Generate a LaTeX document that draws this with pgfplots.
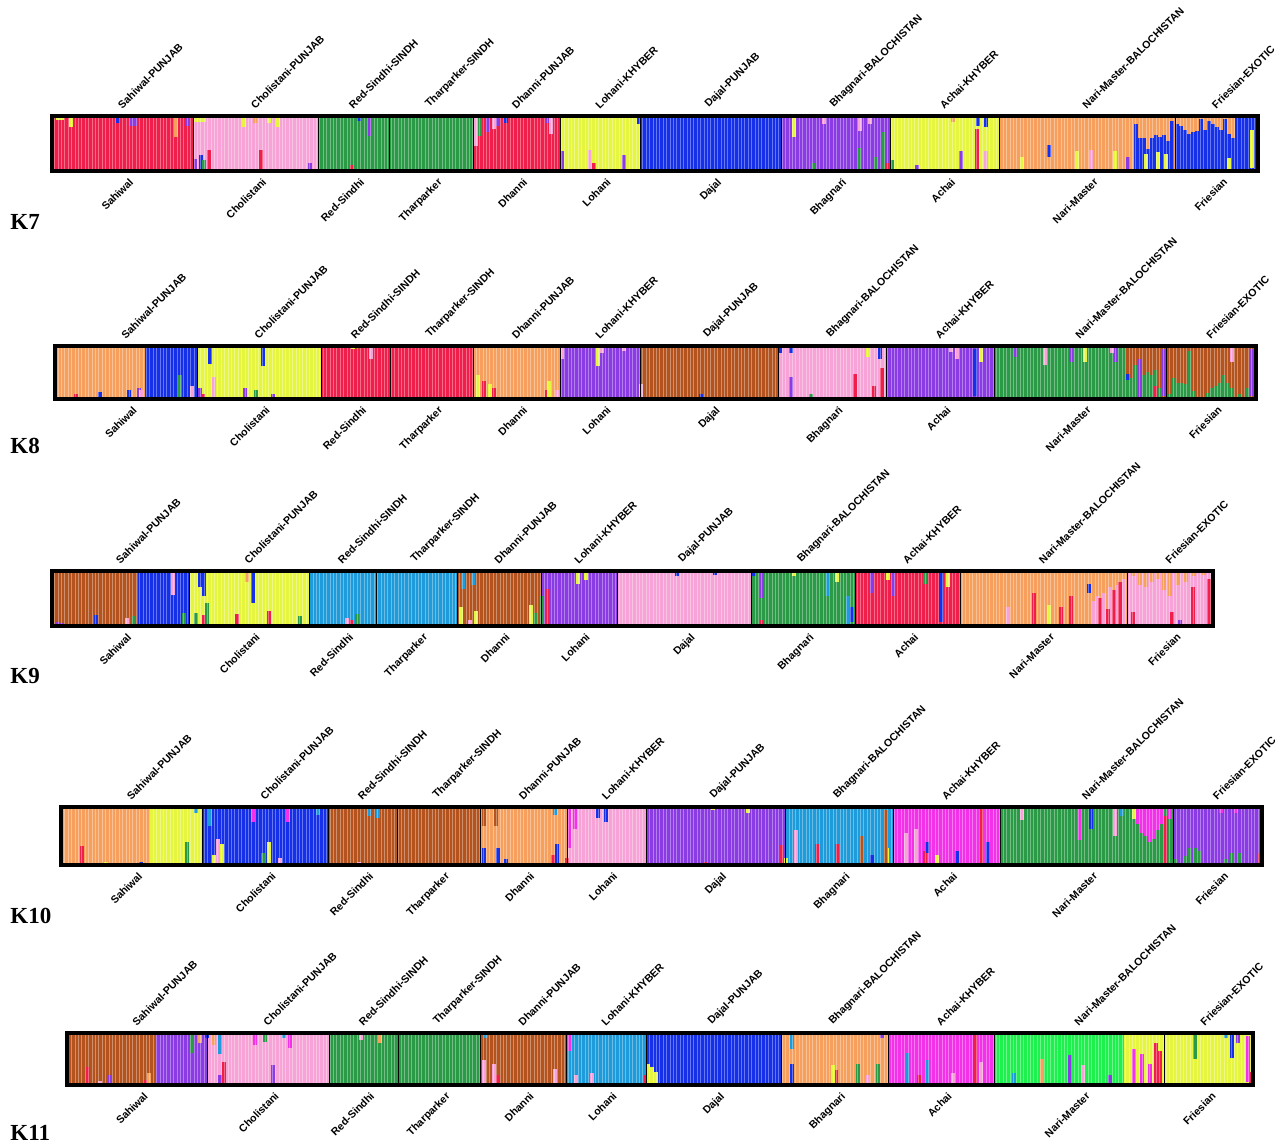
\documentclass[border=0pt]{standalone}
\usepackage{pgfplots}
\pgfplotsset{compat=1.18}
\usepackage{fontspec}
\setmainfont{Liberation Sans}
\newfontfamily\serifK{Liberation Serif}

\definecolor{cred}{HTML}{F01E4B}
\definecolor{cpink}{HTML}{F7A3D7}
\definecolor{cgreen}{HTML}{2B9A47}
\definecolor{corange}{HTML}{F7A05E}
\definecolor{cyellow}{HTML}{E6F53F}
\definecolor{cblue}{HTML}{1530E8}
\definecolor{cpurple}{HTML}{8A3BE3}
\definecolor{cbrown}{HTML}{B5531F}
\definecolor{clblue}{HTML}{1D9BDA}
\definecolor{cmagenta}{HTML}{F231E8}
\definecolor{cbgreen}{HTML}{1EF04E}

\pgfplotsset{
  structure/.style={scale only axis, anchor=south west, ymin=0, ymax=1, ytick=\empty,
    xtick distance=3.4, xmajorticks=false, major tick length=0pt, xmajorgrids,
    major grid style={white, opacity=0.35, line width=0.3pt},
    extra x tick style={xmajorticks=false, major grid style={black, opacity=1, line width=0.5pt}},
    axis on top, axis line style={line width=1.6pt}},
  blk/.style={fill=#1, draw=none, forget plot},
  sp/.style={forget plot, mark=none, draw=none, error bars/.cd, y dir=plus, y explicit,
    error mark=none, error bar style={line width=1.7pt, draw=#1, solid}},
}

\newcommand\bname[1]{\ifcase#1\or Sahiwal\or Cholistani\or Red-Sindhi\or Tharparker\or Dhanni\or Lohani\or Dajal\or Bhagnari\or Achai\or Nari-Master\or Friesian\fi}
\newcommand\tname[1]{\ifcase#1\or Sahiwal-PUNJAB\or Cholistani-PUNJAB\or Red-Sindhi-SINDH\or Tharparker-SINDH\or Dhanni-PUNJAB\or Lohani-KHYBER\or Dajal-PUNJAB\or Bhagnari-BALOCHISTAN\or Achai-KHYBER\or Nari-Master-BALOCHISTAN\or Friesian-EXOTIC\fi}
\newcommand\labfont{\fontsize{5.3}{6}\selectfont\bfseries}
\newcommand\poplabels[3]{%
  \foreach \c [count=\i] in {#3}{%
    \node[rotate=45, anchor=south west, font=\labfont, inner sep=0pt] at (\c, #1+6) {\tname{\i}};
    \node[rotate=45, anchor=north east, font=\labfont, inner sep=0pt] at (\c+6, #2-6) {\bname{\i}};
  }}
\newcommand\klabel[2]{\node[anchor=west, font=\serifK\bfseries\fontsize{11.5}{12}\selectfont, inner sep=0pt] at (10, #1) {#2};}

\begin{document}
\begin{tikzpicture}[x=0.5pt,y=0.5pt]
\useasboundingbox (0,0) rectangle (1277,1146);

% ================= K7 =================
\begin{axis}[structure, at={(26pt,487.5pt)}, width=603pt, height=27.5pt, xmin=52, xmax=1258,
  extra x ticks={193,318,389,473,560,640,781,890,999,1175}]
\addplot[blk=cred] coordinates {(52,1)(193,1)} \closedcycle;
\addplot[blk=cpink] coordinates {(193,1)(318,1)} \closedcycle;
\addplot[blk=cgreen] coordinates {(318,1)(473,1)} \closedcycle;
\addplot[blk=cred] coordinates {(473,1)(560,1)} \closedcycle;
\addplot[blk=cyellow] coordinates {(560,1)(640,1)} \closedcycle;
\addplot[blk=cblue] coordinates {(640,1)(781,1)} \closedcycle;
\addplot[blk=cpurple] coordinates {(781,1)(890,1)} \closedcycle;
\addplot[blk=cyellow] coordinates {(890,1)(999,1)} \closedcycle;
\addplot[blk=corange] coordinates {(999,1)(1175,1)} \closedcycle;
\addplot[blk=cblue] coordinates {(1175,1)(1258,1)} \closedcycle;
\addplot[sp=cred] table[row sep=\\,x=x,y=y,y error=h]{x y h\\ 209 0 .38\\ 261 0 .39\\ 352 0 .1\\ 594 0 .14\\ 887 0 .14\\ 977 0 .76\\};
\addplot[sp=cpink] table[row sep=\\,x=x,y=y,y error=h]{x y h\\ 476 .45 .55\\ 494 .76 .24\\ 551 .67 .33\\ 824 .86 .14\\ 860 .73 .27\\ 870 .86 .14\\ 590 0 .39\\ 986 0 .36\\ 1091 0 .39\\};
\addplot[sp=cblue] table[row sep=\\,x=x,y=y,y error=h]{x y h\\ 118 .88 .12\\ 359 .9 .1\\ 506 .88 .12\\ 639 .86 .14\\ 978 .82 .18\\ 986 .8 .2\\ 1049 .26 .22\\ 201 0 .29\\ 1136 0 .85\\ 1140 0 .6\\ 1144 0 .6\\ 1148 0 .4\\ 1152 0 .6\\ 1156 0 .65\\ 1160 0 .62\\ 1164 0 .65\\ 1168 0 .55\\ 1172 0 .9\\};
\addplot[sp=cyellow] table[row sep=\\,x=x,y=y,y error=h]{x y h\\ 58 .92 .08\\ 62 .92 .08\\ 71 .8 .2\\ 196 .89 .11\\ 200 .89 .11\\ 204 .89 .11\\ 244 .8 .2\\ 269 .88 .12\\ 278 .8 .2\\ 794 .61 .39\\ 1022 0 .26\\ 1077 0 .36\\ 1115 0 .36\\ 1146 0 .3\\ 1158 0 .35\\ 1166 0 .3\\ 1229 0 .23\\ 1252 .05 .7\\};
\addplot[sp=cpurple] table[row sep=\\,x=x,y=y,y error=h]{x y h\\ 131 .82 .18\\ 135 .82 .18\\ 188 .82 .18\\ 369 .64 .36\\ 488 .7 .3\\ 498 .82 .18\\ 547 .88 .12\\ 195 0 .21\\ 310 0 .15\\ 562 0 .36\\ 624 0 .29\\ 961 0 .36\\ 917 0 .1\\ 1128 0 .26\\};
\addplot[sp=corange] table[row sep=\\,x=x,y=y,y error=h]{x y h\\ 176 .61 .39\\ 255 .88 .12\\ 953 .89 .11\\ 1177 .85 .15\\ 1181 .82 .18\\ 1185 .75 .25\\ 1189 .68 .32\\ 1193 .7 .3\\ 1197 .72 .28\\ 1201 .95 .05\\ 1205 .75 .25\\ 1209 .9 .1\\ 1213 .85 .15\\ 1217 .8 .2\\ 1221 .75 .25\\ 1225 .95 .05\\ 1229 .68 .32\\ 1233 .6 .4\\};
\addplot[sp=cgreen] table[row sep=\\,x=x,y=y,y error=h]{x y h\\ 480 .64 .36\\ 204 0 .2\\ 813 0 .14\\ 860 0 .42\\ 876 0 .26\\ 883 0 .7\\ 892 0 .2\\};
\end{axis}

% ================= K8 =================
\begin{axis}[structure, at={(27.5pt,373.5pt)}, width=600.5pt, height=26.5pt, xmin=55, xmax=1256,
  extra x ticks={197,321,390,473,560,640,778,886,994,1166}]
\addplot[blk=corange] coordinates {(55,1)(145,1)} \closedcycle;
\addplot[blk=cblue] coordinates {(145,1)(197,1)} \closedcycle;
\addplot[blk=cyellow] coordinates {(197,1)(321,1)} \closedcycle;
\addplot[blk=cred] coordinates {(321,1)(473,1)} \closedcycle;
\addplot[blk=corange] coordinates {(473,1)(560,1)} \closedcycle;
\addplot[blk=cpurple] coordinates {(560,1)(640,1)} \closedcycle;
\addplot[blk=cbrown] coordinates {(640,1)(778,1)} \closedcycle;
\addplot[blk=cpink] coordinates {(778,1)(886,1)} \closedcycle;
\addplot[blk=cpurple] coordinates {(886,1)(994,1)} \closedcycle;
\addplot[blk=cgreen] coordinates {(994,1)(1126,1)} \closedcycle;
\addplot[blk=cbrown] coordinates {(1126,1)(1256,1)} \closedcycle;
\addplot[sp=cblue] table[row sep=\\,x=x,y=y,y error=h]{x y h\\ 100 0 .14\\ 129 0 .17\\ 210 .66 .34\\ 263 .62 .38\\ 780 .86 .14\\ 791 .86 .14\\ 880 .76 .24\\ 975 .05 .9\\ 701 0 .1\\ 1128 .35 .12\\};
\addplot[sp=cpurple] table[row sep=\\,x=x,y=y,y error=h]{x y h\\ 139 0 .2\\ 200 0 .2\\ 245 0 .2\\ 273 0 .1\\ 791 0 .41\\ 1016 .8 .2\\ 1071 .7 .3\\ 1116 .7 .3\\ 1140 0 .75\\ 1164 .05 .9\\ 1252 .05 .9\\};
\addplot[sp=cpink] table[row sep=\\,x=x,y=y,y error=h]{x y h\\ 141 0 .17\\ 192 0 .24\\ 214 0 .41\\ 371 .76 .24\\ 557 0 .17\\ 562 .76 .24\\ 602 .86 .14\\ 624 .9 .1\\ 641 0 .28\\ 951 .88 .12\\ 957 .76 .24\\ 1045 .65 .35\\ 1112 .86 .14\\ 1232 .7 .3\\};
\addplot[sp=cgreen] table[row sep=\\,x=x,y=y,y error=h]{x y h\\ 180 0 .45\\ 256 0 .17\\ 811 0 .1\\ 1128 0 .35\\ 1132 0 .4\\ 1136 0 .65\\ 1144 0 .45\\ 1148 0 .5\\ 1152 0 .45\\ 1156 0 .55\\ 1160 0 .2\\ 1170 0 .1\\ 1174 0 .4\\ 1178 0 .3\\ 1182 0 .3\\ 1186 0 .28\\ 1190 0 .9\\ 1194 0 .15\\ 1208 0 .12\\ 1212 0 .2\\ 1216 0 .25\\ 1220 0 .3\\ 1224 0 .45\\ 1228 0 .3\\ 1232 0 .2\\ 1240 0 .1\\ 1248 0 .2\\};
\addplot[sp=cred] table[row sep=\\,x=x,y=y,y error=h]{x y h\\ 76 0 .1\\ 203 0 .1\\ 484 0 .34\\ 494 0 .2\\ 547 0 .17\\ 855 0 .48\\ 874 0 .24\\ 882 0 .59\\ 1156 0 .25\\};
\addplot[sp=cyellow] table[row sep=\\,x=x,y=y,y error=h]{x y h\\ 353 .94 .06\\ 478 0 .45\\ 490 0 .28\\ 549 0 .34\\ 598 .62 .38\\ 868 .8 .2\\ 981 .7 .3\\ 1085 .7 .3\\};
\addplot[sp=cbrown] table[row sep=\\,x=x,y=y,y error=h]{x y h\\ 358 .95 .05\\};
\end{axis}

% ================= K9 =================
\begin{axis}[structure, at={(26pt,260pt)}, width=580.5pt, height=27.5pt, xmin=52, xmax=1213,
  extra x ticks={189,309,376,457,541,617,751,855,960,1127}]
\addplot[blk=cbrown] coordinates {(52,1)(138,1)} \closedcycle;
\addplot[blk=cblue] coordinates {(138,1)(189,1)} \closedcycle;
\addplot[blk=cyellow] coordinates {(189,1)(309,1)} \closedcycle;
\addplot[blk=clblue] coordinates {(309,1)(457,1)} \closedcycle;
\addplot[blk=cbrown] coordinates {(457,1)(541,1)} \closedcycle;
\addplot[blk=cpurple] coordinates {(541,1)(617,1)} \closedcycle;
\addplot[blk=cpink] coordinates {(617,1)(751,1)} \closedcycle;
\addplot[blk=cgreen] coordinates {(751,1)(855,1)} \closedcycle;
\addplot[blk=cred] coordinates {(855,1)(960,1)} \closedcycle;
\addplot[blk=corange] coordinates {(960,1)(1127,1)} \closedcycle;
\addplot[blk=cpink] coordinates {(1127,1)(1213,1)} \closedcycle;
\addplot[sp=clblue] table[row sep=\\,x=x,y=y,y error=h]{x y h\\ 463 .67 .33\\ 473 .74 .26\\ 827 .54 .46\\ 848 0 .55\\};
\addplot[sp=cblue] table[row sep=\\,x=x,y=y,y error=h]{x y h\\ 96 0 .2\\ 200 .7 .3\\ 204 .54 .46\\ 253 .41 .59\\ 677 .9 .1\\ 715 .92 .08\\ 754 .9 .1\\ 852 .08 .26\\ 941 .08 .9\\ 1089 .6 .17\\};
\addplot[sp=cpurple] table[row sep=\\,x=x,y=y,y error=h]{x y h\\ 57 0 .08\\ 62 0 .06\\ 762 .5 .5\\ 872 .6 .4\\ 894 .54 .46\\ 1180 0 .1\\};
\addplot[sp=cgreen] table[row sep=\\,x=x,y=y,y error=h]{x y h\\ 133 0 .18\\ 184 0 .24\\ 196 0 .24\\ 207 0 .42\\ 300 0 .18\\ 357 0 .21\\ 535 0 .24\\ 542 0 .55\\ 925 .77 .23\\};
\addplot[sp=cpink] table[row sep=\\,x=x,y=y,y error=h]{x y h\\ 127 0 .15\\ 173 .57 .43\\ 347 0 .15\\ 470 0 .1\\ 1008 0 .35\\ 1094 0 .45\\ 1098 0 .55\\ 1104 0 .6\\ 1110 0 .7\\ 1118 0 .75\\ 1124 0 .85\\};
\addplot[sp=cred] table[row sep=\\,x=x,y=y,y error=h]{x y h\\ 204 0 .2\\ 237 0 .22\\ 269 0 .28\\ 352 0 .1\\ 547 0 .67\\ 762 0 .1\\ 1034 0 .6\\ 1061 0 .35\\ 1071 0 .55\\ 1100 0 .5\\ 1108 0 .3\\ 1114 0 .65\\ 1120 0 .8\\ 1133 0 .25\\ 1172 0 .25\\ 1193 0 .7\\ 1209 0 .85\\};
\addplot[sp=corange] table[row sep=\\,x=x,y=y,y error=h]{x y h\\ 247 .8 .2\\ 1133 .9 .1\\ 1140 .75 .25\\ 1146 .7 .3\\ 1152 .8 .2\\ 1158 .85 .15\\ 1164 .65 .35\\ 1170 .55 .45\\ 1178 .75 .25\\ 1186 .8 .2\\ 1194 .9 .1\\ 1204 .92 .08\\};
\addplot[sp=cyellow] table[row sep=\\,x=x,y=y,y error=h]{x y h\\ 461 0 .34\\ 476 0 .28\\ 531 0 .38\\ 578 .77 .23\\ 586 .84 .16\\ 794 .9 .1\\ 837 .8 .2\\ 888 .84 .16\\ 948 .7 .3\\ 1049 0 .38\\};
\end{axis}

% ================= K10 =================
\begin{axis}[structure, at={(30.5pt,140.5pt)}, width=600.5pt, height=29pt, xmin=61, xmax=1262,
  extra x ticks={202,328,397,480,567,646,785,893,1000,1173}]
\addplot[blk=corange] coordinates {(61,1)(150,1)} \closedcycle;
\addplot[blk=cyellow] coordinates {(150,1)(202,1)} \closedcycle;
\addplot[blk=cblue] coordinates {(202,1)(328,1)} \closedcycle;
\addplot[blk=cbrown] coordinates {(328,1)(480,1)} \closedcycle;
\addplot[blk=corange] coordinates {(480,1)(567,1)} \closedcycle;
\addplot[blk=cpink] coordinates {(567,1)(646,1)} \closedcycle;
\addplot[blk=cpurple] coordinates {(646,1)(785,1)} \closedcycle;
\addplot[blk=clblue] coordinates {(785,1)(893,1)} \closedcycle;
\addplot[blk=cmagenta] coordinates {(893,1)(1000,1)} \closedcycle;
\addplot[blk=cgreen] coordinates {(1000,1)(1173,1)} \closedcycle;
\addplot[blk=cpurple] coordinates {(1173,1)(1262,1)} \closedcycle;
\addplot[sp=cred] table[row sep=\\,x=x,y=y,y error=h]{x y h\\ 82 0 .33\\ 220 0 .36\\ 553 0 .18\\ 567 0 .12\\ 705 0 .05\\ 782 0 .35\\ 817 0 .36\\ 837 0 .36\\ 925 0 .24\\ 981 .02 .95\\ 1166 0 .85\\ 1260 0 .2\\};
\addplot[sp=cyellow] table[row sep=\\,x=x,y=y,y error=h]{x y h\\ 106 0 .05\\ 214 0 .17\\ 222 0 .36\\ 269 0 .4\\ 713 .95 .05\\ 748 .9 .1\\ 786 0 .12\\ 887 0 .3\\ 937 0 .17\\ 1134 .8 .2\\};
\addplot[sp=cblue] table[row sep=\\,x=x,y=y,y error=h]{x y h\\ 141 0 .05\\ 484 0 .3\\ 498 0 .3\\ 506 0 .1\\ 557 0 .37\\ 598 .81 .19\\ 606 .75 .25\\ 872 0 .18\\ 927 .2 .2\\ 957 0 .24\\ 988 0 .4\\ 1091 .62 .38\\};
\addplot[sp=cgreen] table[row sep=\\,x=x,y=y,y error=h]{x y h\\ 187 0 .4\\ 263 0 .2\\ 1176 0 .1\\ 1185 0 .15\\ 1190 0 .3\\ 1195 0 .3\\ 1200 0 .25\\ 1225 0 .1\\ 1232 0 .2\\ 1240 0 .2\\};
\addplot[sp=clblue] table[row sep=\\,x=x,y=y,y error=h]{x y h\\ 196 .9 .1\\ 210 .68 .32\\ 318 .87 .13\\ 369 .84 .16\\ 378 .81 .19\\ 555 .87 .13\\ 1122 .84 .16\\};
\addplot[sp=cmagenta] table[row sep=\\,x=x,y=y,y error=h]{x y h\\ 253 .75 .25\\ 288 .75 .25\\ 569 .3 .7\\ 575 .62 .38\\ 1079 .43 .57\\ 1138 .7 .3\\ 1142 .55 .45\\ 1146 .5 .5\\ 1150 .4 .6\\ 1154 .45 .55\\ 1158 .6 .4\\ 1162 .7 .3\\ 1170 .8 .2\\ 1221 .9 .1\\ 1236 .9 .1\\};
\addplot[sp=cpink] table[row sep=\\,x=x,y=y,y error=h]{x y h\\ 218 0 .45\\ 280 0 .12\\ 359 0 .06\\ 796 0 .6\\ 906 0 .55\\ 916 0 .62\\ 1022 .78 .22\\ 1115 .5 .5\\};
\addplot[sp=cbrown] table[row sep=\\,x=x,y=y,y error=h]{x y h\\ 484 .68 .32\\ 496 .68 .32\\ 862 0 .5\\ 886 0 .95\\};
\end{axis}

% ================= K11 =================
\begin{axis}[structure, at={(33.5pt,30.5pt)}, width=593pt, height=26pt, xmin=67, xmax=1253,
  extra x ticks={207,329,398,480,566,646,781,888,994,1164}]
\addplot[blk=cbrown] coordinates {(67,1)(155,1)} \closedcycle;
\addplot[blk=cpurple] coordinates {(155,1)(207,1)} \closedcycle;
\addplot[blk=cpink] coordinates {(207,1)(329,1)} \closedcycle;
\addplot[blk=cgreen] coordinates {(329,1)(480,1)} \closedcycle;
\addplot[blk=cbrown] coordinates {(480,1)(566,1)} \closedcycle;
\addplot[blk=clblue] coordinates {(566,1)(646,1)} \closedcycle;
\addplot[blk=cblue] coordinates {(646,1)(781,1)} \closedcycle;
\addplot[blk=corange] coordinates {(781,1)(888,1)} \closedcycle;
\addplot[blk=cmagenta] coordinates {(888,1)(994,1)} \closedcycle;
\addplot[blk=cbgreen] coordinates {(994,1)(1124,1)} \closedcycle;
\addplot[blk=cyellow] coordinates {(1124,1)(1253,1)} \closedcycle;
\addplot[sp=cred] table[row sep=\\,x=x,y=y,y error=h]{x y h\\ 88 0 .35\\ 145 0 .1\\ 224 0 .45\\ 498 0 .2\\ 646 0 .2\\ 836 0 .28\\ 919 0 .2\\ 975 .02 .95\\ 1156 0 .8\\ 1160 0 .65\\ 1251 0 .25\\};
\addplot[sp=cpurple] table[row sep=\\,x=x,y=y,y error=h]{x y h\\ 110 0 .2\\ 220 0 .2\\ 273 0 .38\\ 882 .9 .1\\ 1070 0 .58\\ 1110 0 .2\\ 1238 .8 .2\\};
\addplot[sp=cpink] table[row sep=\\,x=x,y=y,y error=h]{x y h\\ 100 0 .08\\ 361 .86 .14\\ 484 0 .48\\ 494 0 .41\\ 555 0 .31\\ 576 0 .2\\ 592 0 .24\\ 868 0 .2\\ 953 0 .24\\ 981 0 .45\\ 1083 0 .38\\};
\addplot[sp=corange] table[row sep=\\,x=x,y=y,y error=h]{x y h\\ 149 0 .24\\ 200 .8 .2\\ 214 .76 .24\\ 380 .8 .2\\ 1042 0 .5\\};
\addplot[sp=cgreen] table[row sep=\\,x=x,y=y,y error=h]{x y h\\ 192 .62 .38\\ 265 .83 .17\\ 858 0 .41\\ 878 0 .41\\ 1195 .5 .5\\};
\addplot[sp=cblue] table[row sep=\\,x=x,y=y,y error=h]{x y h\\ 207 .9 .1\\ 792 0 .4\\ 1232 .52 .48\\};
\addplot[sp=clblue] table[row sep=\\,x=x,y=y,y error=h]{x y h\\ 220 .59 .41\\ 284 .9 .1\\ 486 .9 .1\\ 792 .7 .3\\ 908 0 .62\\ 927 0 .48\\ 1014 0 .24\\ 1226 .9 .1\\};
\addplot[sp=cmagenta] table[row sep=\\,x=x,y=y,y error=h]{x y h\\ 255 .76 .24\\ 290 .72 .28\\ 569 .65 .35\\ 1134 0 .7\\ 1142 0 .6\\ 1150 0 .4\\ 1248 .05 .9\\};
\addplot[sp=cyellow] table[row sep=\\,x=x,y=y,y error=h]{x y h\\ 648 0 .41\\ 652 0 .34\\ 656 0 .25\\ 833 0 .38\\};
\end{axis}

% ================= labels =================
\poplabels{1030}{975}{122.5,255.5,353.5,431,516.5,600,710.5,835.5,944.5,1087,1216.5}
\poplabels{800}{747}{126,259,355.5,431.5,516.5,600,709,832,940,1080,1211}
\poplabels{575}{520}{120.5,249,342.5,416.5,499,579,684,803,907.5,1043.5,1170}
\poplabels{339}{281}{131.5,265,362.5,438.5,523.5,606.5,715.5,839,946.5,1086.5,1217.5}
\poplabels{113}{61}{137,268,363.5,439,523,606,713.5,834.5,941,1079,1205}

\klabel{924}{K7}
\klabel{700}{K8}
\klabel{470}{K9}
\klabel{230}{K10}
\klabel{13}{K11}
\end{tikzpicture}
\end{document}
